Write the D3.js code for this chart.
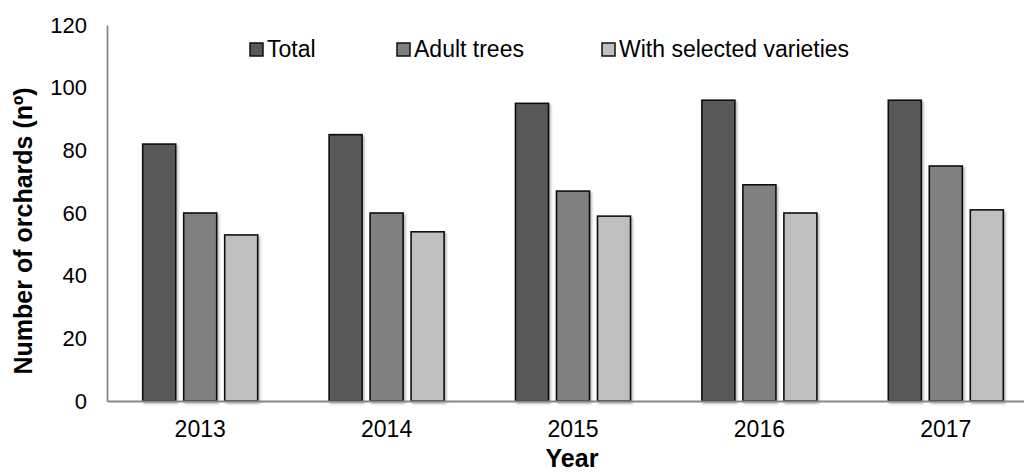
<!DOCTYPE html>
<html>
<head>
<meta charset="utf-8">
<script src="https://cdn.jsdelivr.net/npm/d3@7"></script>
<style>
  html, body { margin: 0; padding: 0; background: #fff; }
  svg { display: block; font-family: "Liberation Sans", Arial, sans-serif; }
</style>
</head>
<body>
<svg id="chart" width="1024" height="475"></svg>
<script>
// Orchard counts per year
const years = ["2013", "2014", "2015", "2016", "2017"];
const seriesNames = ["Total", "Adult trees", "With selected varieties"];
const totalValues = [82, 85, 95, 96, 96];
const adultValues = [60, 60, 67, 69, 75];
const selectedValues = [53, 54, 59, 60, 61];
const yTicks = [0, 20, 40, 60, 80, 100, 120];
const seriesColors = ["#595959", "#808080", "#bfbfbf"];

const seriesValues = [totalValues, adultValues, selectedValues];
const rows = years.map((yr, i) => ({
  year: yr,
  values: seriesNames.map((s, k) => ({ key: s, value: seriesValues[k][i] }))
}));

const svg = d3.select("#chart");

const plotLeft = 107, plotTop = 25, plotBottom = 401, bandStep = 186.4;

const x0 = d3.scaleBand().domain(years).range([plotLeft, plotLeft + bandStep * years.length]).padding(0);
const x1 = d3.scaleBand().domain(seriesNames).range([0, x0.bandwidth()])
  .paddingInner(8 / 41).paddingOuter(0.8706);
const y = d3.scaleLinear().domain([0, 120]).range([plotBottom, plotTop]);
const color = d3.scaleOrdinal().domain(seriesNames).range(seriesColors);

// soft shadow under the bars
const defs = svg.append("defs");
const f = defs.append("filter").attr("id", "shadow")
  .attr("x", "-20%").attr("y", "-5%").attr("width", "140%").attr("height", "115%");
f.append("feDropShadow").attr("dx", 1.5).attr("dy", 2).attr("stdDeviation", 0.8)
  .attr("flood-color", "#000").attr("flood-opacity", 0.3);

// bars
const groups = svg.append("g").selectAll("g").data(rows).join("g")
  .attr("transform", d => `translate(${x0(d.year)},0)`);
groups.selectAll("rect").data(d => d.values).join("rect")
  .attr("x", d => x1(d.key))
  .attr("y", d => y(d.value))
  .attr("width", x1.bandwidth())
  .attr("height", d => y(0) - y(d.value))
  .attr("fill", d => color(d.key))
  .attr("stroke", "#111")
  .attr("stroke-width", 1.6)
  .attr("filter", "url(#shadow)");

// y axis
const yAxis = d3.axisLeft(y).tickValues(yTicks).tickSize(0).tickPadding(20);
const gy = svg.append("g").attr("transform", `translate(${plotLeft},0)`).call(yAxis);
gy.select(".domain").attr("stroke", "#868686").attr("stroke-width", 1.8);
gy.selectAll("text").attr("font-size", 22).attr("fill", "#000")
  .attr("font-family", "Liberation Sans, Arial, sans-serif");

// x axis
const xAxis = d3.axisBottom(x0).tickSize(0).tickPadding(20);
const gx = svg.append("g").attr("transform", `translate(0,${plotBottom})`).call(xAxis);
gx.select(".domain").attr("stroke", "#868686").attr("stroke-width", 1.8);
gx.selectAll("text").attr("font-size", 23).attr("fill", "#000")
  .attr("font-family", "Liberation Sans, Arial, sans-serif");

// axis titles
svg.append("text")
  .attr("transform", "translate(32,231) rotate(-90)")
  .attr("text-anchor", "middle")
  .attr("font-size", 25).attr("font-weight", "bold")
  .text("Number of orchards (nº)");

svg.append("text")
  .attr("x", 572).attr("y", 467)
  .attr("text-anchor", "middle")
  .attr("font-size", 25).attr("font-weight", "bold")
  .text("Year");

// legend
const legendX = [250, 397, 602];
const lg = svg.append("g").selectAll("g").data(seriesNames).join("g")
  .attr("transform", (d, i) => `translate(${legendX[i]},43)`);
lg.append("rect").attr("width", 13).attr("height", 13)
  .attr("fill", d => color(d)).attr("stroke", "#111").attr("stroke-width", 1.5);
lg.append("text").attr("x", 17).attr("y", 14)
  .attr("font-size", 23).attr("fill", "#000")
  .text(d => d);
</script>
</body>
</html>
